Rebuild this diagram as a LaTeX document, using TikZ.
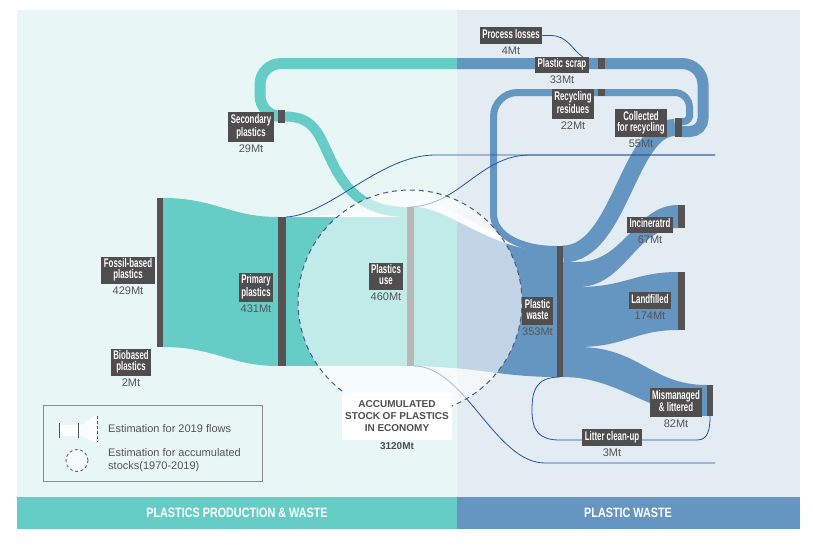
\documentclass[tikz,border=0pt]{standalone}
\usepackage{fontspec}
\setmainfont{Liberation Sans}
\newfontfamily\condfont[FakeStretch=0.63]{Liberation Sans}
\newfontfamily\headfont[FakeStretch=0.8]{Liberation Sans}
\usetikzlibrary{positioning}
\definecolor{bgleft}{HTML}{E9F6F6}
\definecolor{bgright}{HTML}{E3EBF3}
\definecolor{tealflow}{HTML}{66CDC6}
\definecolor{blueflow}{HTML}{6596C1}
\definecolor{bardark}{HTML}{555354}
\definecolor{usegray}{HTML}{B8B8B8}
\definecolor{boxgray}{HTML}{4F4D4E}
\definecolor{valgray}{HTML}{555555}
\definecolor{navy}{HTML}{24549A}
\definecolor{dashblue}{HTML}{4B5B82}
\definecolor{legendgray}{HTML}{8A8A8A}
\tikzset{
    bar/.style={inner sep=0pt,outer sep=0pt,minimum width=7pt},
    lbox/.style={fill=boxgray,text=white,font={\condfont\bfseries\fontsize{12.5}{11}\selectfont},align=center,inner xsep=2.5pt,inner ysep=2pt,execute at begin node=\strut,execute at end node=\strut},
    val/.style={text=valgray,font={\fontsize{11}{12}\selectfont},inner sep=1pt},
    tealband/.style={draw=tealflow,line width=11pt},
    blueband/.style={draw=blueflow,line width=11pt},
    stockline/.style={draw=navy,line width=0.8pt},
    estfade/.style={fill=white,opacity=0.7},
    stockring/.style={circle,draw=dashblue,dash pattern=on 5pt off 4pt,line width=1pt,fill=white,fill opacity=0.6,inner sep=0pt},
    foot/.style={text=white,font={\headfont\bfseries\fontsize{13.5}{14}\selectfont}},
    legtext/.style={text=valgray,font={\fontsize{11}{13}\selectfont},inner sep=1pt,anchor=west,align=left}
}
\def\wasteflow{(use.north east) .. controls (450,207) and (490,252) .. (waste.west |- 0,252) -- (waste.south west) .. controls (500,377) and (470,366) .. (use.south east) -- cycle}

\begin{document}
\begin{tikzpicture}[x=1pt,y=-1pt]
  \useasboundingbox (0,0) rectangle (813,549);

  % Panels
  \fill[bgleft] (17,10) rectangle (457,497);
  \fill[bgright] (457,10) rectangle (800,497);
  \fill[tealflow] (17,497) rectangle (457,529);
  \fill[blueflow] (457,497) rectangle (800,529);
  \node[foot] (prodfoot) at (237,513) {PLASTICS PRODUCTION \& WASTE};
  \node[foot] (wastefoot) at (628,513) {PLASTIC WASTE};

  % Bars
  \node[bar,minimum width=6pt,minimum height=149pt] (fossil) at (160,272.5) {};
  \node[bar,minimum width=8pt,minimum height=149pt] (primary) at (282,291.5) {};
  \node[bar,minimum height=159pt] (use) at (410.5,286.5) {};
  \node[bar,minimum width=6pt,minimum height=131pt] (waste) at (560,311.5) {};
  \node[bar,minimum height=13pt] (secondary) at (281.5,116.5) {};
  \node[bar,minimum height=11pt] (scrap) at (601.5,63.5) {};
  \node[bar,minimum height=7pt] (resid) at (601.5,92.5) {};
  \node[bar,minimum height=19pt] (collected) at (678.5,127.5) {};
  \node[bar,minimum height=23pt] (incin) at (681.5,216.5) {};
  \node[bar,minimum height=58pt] (landf) at (681.5,301) {};
  \node[bar,minimum width=6pt,minimum height=31pt] (misman) at (710,400.5) {};
  \coordinate (stockT) at (715,155);
  \coordinate (stockB) at (715,463);
  \coordinate (lossend) at (583,57);

  % Production flows
  \fill[tealflow] (fossil.north east) .. controls (215,198) and (230,217) .. (primary.north west) -- (primary.south west) .. controls (230,366) and (215,347) .. (fossil.south east) -- cycle;
  \fill[tealflow] (primary.north east) -- (use.north west |- 0,217) -- (use.south west) -- (primary.south east) -- cycle;
  \fill[blueflow] \wasteflow;
  \begin{scope}
    \clip (17,10) rectangle (457,497);
    \fill[tealflow] \wasteflow;
  \end{scope}

  % Waste flows
  \fill[blueflow] (waste.east |- 0,262) -- (578,262) .. controls (625,262) and (635,205) .. (incin.north west) -- (incin.south west) .. controls (635,228) and (625,287) .. (578,287) -- (waste.east |- 0,287) -- cycle;
  \fill[blueflow] (waste.east |- 0,287) -- (578,287) .. controls (625,287) and (635,272) .. (landf.north west) -- (landf.south west) .. controls (635,330) and (625,347) .. (578,347) -- (waste.east |- 0,347) -- cycle;
  \fill[blueflow] (waste.east |- 0,347) -- (578,347) .. controls (640,347) and (650,385) .. (misman.north west) -- (misman.south west) .. controls (650,416) and (620,377) .. (waste.south east) -- cycle;

  % Estimation
  \fill[estfade] (use.north east |- 0,200) .. controls (455,200) and (490,247) .. (waste.west |- 0,247) -- (waste.west |- 0,252) .. controls (490,252) and (450,207) .. (use.north east) -- cycle;
  \fill[estfade] (primary.north east) .. controls (330,216) and (360,211) .. (400,211) -- (400,217) -- cycle;

  % Recycling loop
  \draw[blueband,line width=17pt] (waste.east |- 0,254) .. controls (620,254) and (628,127.5) .. (collected.west);
  \draw[blueband,line width=7pt] (collected.east |- 0,121.5) [rounded corners=6pt] -- (689.5,121.5) -- (689.5,112) [rounded corners=15pt] -- (689.5,92.5) -- (560,92.5) [rounded corners=24pt] -- (493.5,92.5) -- (493.5,190) [sharp corners] .. controls (493.5,235) and (520,249.5) .. (waste.west |- 0,249.5);
  \draw[blueband] (collected.east |- 0,131.5) [rounded corners=13pt] -- (703,131.5) -- (703,100) [rounded corners=21pt] -- (703,63.5) -- (457,63.5);
  \draw[tealband] (457,63.5) [rounded corners=21pt] -- (260,63.5) -- (260,116.5) -- (secondary.center);
  \draw[tealband,line width=10pt] (secondary.east) .. controls (318,116.5) and (320,140) .. (335,168) .. controls (350,196) and (370,212) .. (use.west |- 0,212);

  % Stock lines
  \draw[stockline] (primary.north east) .. controls (330,215) and (380,155) .. (435,155) -- (stockT);
  \draw[stockline] (use.north) .. controls (460,205) and (480,155) .. (530,155) -- (stockT);
  \draw[stockline] (use.south east) .. controls (465,366) and (495,463) .. (545,463) -- (stockB);

  % Accumulated stock
  \node[stockring,minimum size=224pt] (stock) at (410,302) {};
  \node[fill=white,text=boxgray,font={\bfseries\fontsize{10}{12}\selectfont},align=center,minimum width=110pt,minimum height=47pt] (accum) at (397,416) {ACCUMULATED\\STOCK OF PLASTICS\\IN ECONOMY};
  \node[val,text=boxgray,font={\bfseries\fontsize{10}{11}\selectfont},below=2pt of accum] (accumV) {3120Mt};

  % Litter clean-up
  \draw[stockline] (waste.south) .. controls (535,377) and (532,392) .. (532,410) .. controls (532,432) and (540,440) .. (560,440) -- (697,440) .. controls (708,440) and (710,430) .. (misman.south);

  \foreach \b in {fossil,primary,waste,secondary,scrap,resid,collected,incin,landf,misman}
    \fill[bardark] (\b.south west) rectangle (\b.north east);
  \fill[usegray] (use.south west) rectangle (use.north east);

  % Labels
  \node[lbox] (processL) at (511,35.5) {Process losses};
  \node[val,below=1.5pt of processL] (processV) {4Mt};
  \node[lbox] (scrapL) at (562,65) {Plastic scrap};
  \node[val,below=1.5pt of scrapL] (scrapV) {33Mt};
  \node[lbox] (residL) at (573,104) {Recycling\\residues};
  \node[val,below=1.5pt of residL] (residV) {22Mt};
  \node[lbox] (collL) at (641,123) {Collected\\for recycling};
  \node[val,below=1.5pt of collL] (collV) {55Mt};
  \node[lbox] (secL) at (251,127) {Secondary\\plastics};
  \node[val,below=1.5pt of secL] (secV) {29Mt};
  \node[lbox] (fossilL) at (128,270.5) {Fossil-based\\plastics};
  \node[val,below=1.5pt of fossilL] (fossilV) {429Mt};
  \node[lbox] (bioL) at (131,362.5) {Biobased\\plastics};
  \node[val,below=1.5pt of bioL] (bioV) {2Mt};
  \node[lbox] (primL) at (256,287) {Primary\\plastics};
  \node[val,below=1.5pt of primL] (primV) {431Mt};
  \node[lbox] (useL) at (386,276.5) {Plastics\\use};
  \node[val,below=1.5pt of useL] (useV) {460Mt};
  \node[lbox] (wasteL) at (537.5,311) {Plastic\\waste};
  \node[val,below=1.5pt of wasteL] (wasteV) {353Mt};
  \node[lbox] (incinL) at (650,225) {Incineratrd};
  \node[val,below=1.5pt of incinL] (incinV) {67Mt};
  \node[lbox] (landL) at (650,300.5) {Landfilled};
  \node[val,below=1.5pt of landL] (landV) {174Mt};
  \node[lbox] (mismL) at (676,402.5) {Mismanaged\\\& littered};
  \node[val,below=1.5pt of mismL] (mismV) {82Mt};
  \node[lbox] (litterL) at (612,437.5) {Litter clean-up};
  \node[val,below=1.5pt of litterL] (litterV) {3Mt};
  \draw[stockline] (processL.east) -- ++(8,0) .. controls (568,35.5) and (572,50) .. (lossend);

  % Legend
  \node[draw=legendgray,line width=0.8pt,minimum width=219pt,minimum height=76pt] (legend) at (152.5,443) {};
  \fill[white,opacity=0.9] (59,425) rectangle (78,436);
  \fill[white,opacity=0.9] (78,425) .. controls (88,425) and (88,416) .. (97,416) -- (97,442) .. controls (88,442) and (88,436) .. (78,436) -- cycle;
  \draw[bardark,line width=1pt] (59,423) -- (59,438) (78,423) -- (78,438);
  \draw[bardark,line width=0.8pt,dash pattern=on 3pt off 2pt] (97,416) -- (97,442);
  \node[stockring,fill opacity=1,fill=bgleft!40!white,minimum size=22pt,line width=0.8pt,dash pattern=on 3pt off 2.5pt] (stockicon) at (77,460.5) {};
  \node[legtext] (flowtext) at (107,429) {Estimation for 2019 flows};
  \node[legtext] (stocktext) at (107,460.5) {Estimation for accumulated\\stocks(1970-2019)};
\end{tikzpicture}
\end{document}
